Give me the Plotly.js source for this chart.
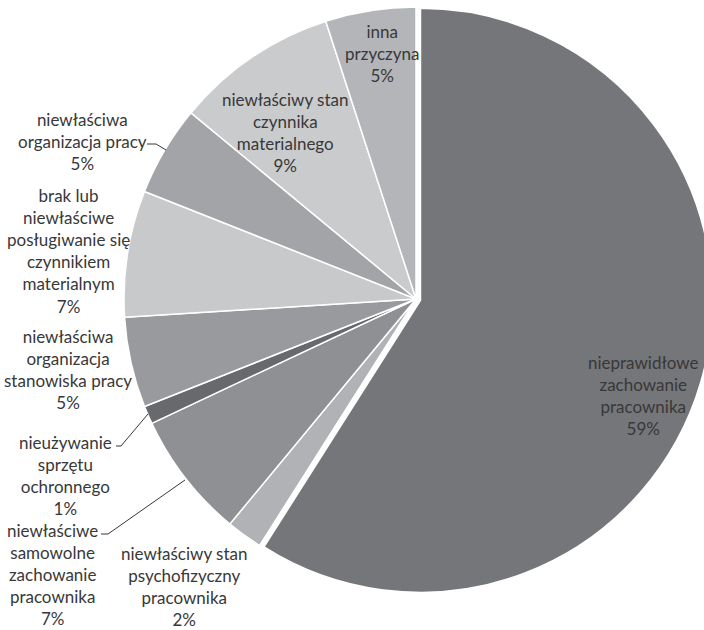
<!DOCTYPE html>
<html>
<head>
<meta charset="utf-8">
<script src="https://cdn.plot.ly/plotly-3.0.1.min.js"></script>
<style>
html,body{margin:0;padding:0;overflow:hidden;background:#fff;width:704px;height:630px;}
#chart{width:740px;height:630px;}
</style>
</head>
<body>
<div id="chart"></div>
<script>
// ---- data ----
var categories = [
  "nieprawidłowe zachowanie pracownika",
  "niewłaściwy stan psychofizyczny pracownika",
  "niewłaściwe samowolne zachowanie pracownika",
  "nieużywanie sprzętu ochronnego",
  "niewłaściwa organizacja stanowiska pracy",
  "brak lub niewłaściwe posługiwanie się czynnikiem materialnym",
  "niewłaściwa organizacja pracy",
  "niewłaściwy stan czynnika materialnego",
  "inna przyczyna"
];
var values = [59, 2, 7, 1, 5, 7, 5, 9, 5];
var labelLines = [
  ["nieprawidłowe", "zachowanie", "pracownika"],
  ["niewłaściwy stan", "psychofizyczny", "pracownika"],
  ["niewłaściwe", "samowolne", "zachowanie", "pracownika"],
  ["nieużywanie", "sprzętu", "ochronnego"],
  ["niewłaściwa", "organizacja", "stanowiska pracy"],
  ["brak lub", "niewłaściwe", "posługiwanie się", "czynnikiem", "materialnym"],
  ["niewłaściwa", "organizacja pracy"],
  ["niewłaściwy stan", "czynnika", "materialnego"],
  ["inna", "przyczyna"]
];

// ---- styling / layout ----
var W = 740, H = 630;
var colors = ["#757679", "#b1b2b5", "#8f9093", "#68696c", "#999a9d", "#c8c9cb", "#a3a4a7", "#cacbcd", "#b4b5b8"];
var pulls = [0.016, 0, 0, 0, 0, 0, 0, 0, 0];
var cx = 416, cy = 299, r = 292, maxPull = 0.016;
var half = r * (1 + maxPull);
// label centres (pixels)
var labelPos = [
  [643, 395], [184, 586], [52, 574], [65, 475], [68, 369],
  [68, 251], [82, 141], [285, 132], [382, 53]
];
// leader lines (pixels)
var leaders = [
  [[147,144],[156,144],[166,150]],
  [[116,446],[121,446],[148,414]],
  [[101,534],[108,534],[185,480]]
];

function px(x){ return x / W; }
function py(y){ return 1 - y / H; }

var total = values.reduce(function(a,b){return a+b;}, 0);
var annotations = values.map(function(v, i){
  var pct = Math.round(v / total * 100) + "%";
  return {
    xref: "paper", yref: "paper",
    x: px(labelPos[i][0]), y: py(labelPos[i][1]),
    xanchor: "center", yanchor: "middle", align: "center",
    showarrow: false,
    text: labelLines[i].concat([pct]).join("<br>"),
    font: {family: "Lato, 'Open Sans', sans-serif", size: 17, color: "#383838"}
  };
});

var shapes = leaders.map(function(pts){
  var d = pts.map(function(p, k){ return (k ? "L" : "M") + px(p[0]) + "," + py(p[1]); }).join(" ");
  return {type: "path", xref: "paper", yref: "paper", path: d,
          line: {color: "#383838", width: 1}};
});

var trace = {
  type: "pie",
  labels: categories,
  values: values,
  sort: false,
  direction: "clockwise",
  rotation: 0,
  pull: pulls,
  textinfo: "none",
  hoverinfo: "label+percent",
  marker: {colors: colors, line: {color: "#ffffff", width: 1.5}},
  domain: {
    x: [px(cx - half), px(cx + half)],
    y: [py(cy + half), py(cy - half)]
  },
  showlegend: false
};

var layout = {
  width: W, height: H,
  margin: {l: 0, r: 0, t: 0, b: 0},
  paper_bgcolor: "#ffffff",
  showlegend: false,
  annotations: annotations,
  shapes: shapes
};

Plotly.newPlot("chart", [trace], layout, {displayModeBar: false, staticPlot: true});
</script>
</body>
</html>
